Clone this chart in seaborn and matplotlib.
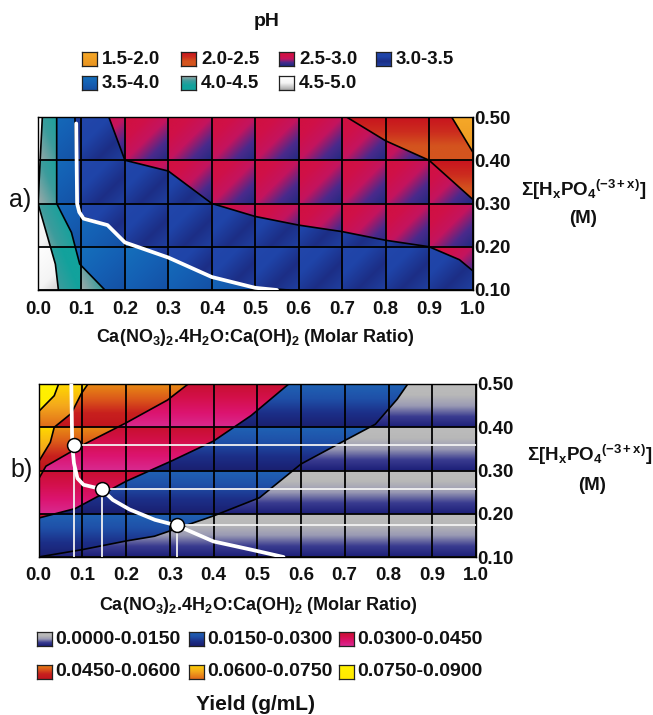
import numpy as np
import matplotlib
matplotlib.use("Agg")
import matplotlib.pyplot as plt
from matplotlib.colors import LinearSegmentedColormap as LSC
from matplotlib.patches import Polygon
import seaborn as sns

sns.set_theme(style="white")
plt.rcParams['font.family'] = ['Liberation Sans', 'DejaVu Sans']
plt.rcParams['mathtext.fontset'] = 'custom'
plt.rcParams['mathtext.rm'] = 'Liberation Sans:bold'
plt.rcParams['mathtext.bf'] = 'Liberation Sans:bold'
plt.rcParams['mathtext.it'] = 'Liberation Sans:bold'

W, H = 653, 715

x_ticks = [0.0, 0.1, 0.2, 0.3, 0.4, 0.5, 0.6, 0.7, 0.8, 0.9, 1.0]
y_ticks = [0.10, 0.20, 0.30, 0.40, 0.50]

ph_labels = ["4.5-5.0", "4.0-4.5", "3.5-4.0", "3.0-3.5", "2.5-3.0", "2.0-2.5", "1.5-2.0"]
ph_colors = [
    ['#ffffff', '#f4f4f4', '#a8a8a8'],
    ['#a0aaaa', '#3c9c9c', '#12a29c', '#12a29c'],
    ['#1470bc', '#1560b4', '#1450a4'],
    ['#2246aa', '#1f44a8', '#1c2e86', '#2040a0'],
    ['#d0103f', '#d01048', '#c4145e', '#4a2a8c', '#1f2a80'],
    ['#c8141e', '#cc2c1e', '#d4541e', '#d4541e'],
    ['#f6a828', '#e89420'],
]
ph_modes = ['d', 'a', 'd', 'd', 'd', 'v', 'v']
# contour lines of panel a, from left to right
a_x = [[0.01, 0.0, 0.04, 0.047],
       [0.043, 0.043, 0.077, 0.096, 0.154],
       [0.085, 0.09, 0.10, 0.16, 0.20, 0.30, 0.40, 0.50, 0.577],
       [0.163, 0.20, 0.30, 0.40, 0.50, 0.60, 0.70, 0.80, 0.90, 0.97, 1.0],
       [0.71, 0.80, 0.90, 1.0],
       [0.952, 1.0]]
a_y = [[0.50, 0.30, 0.16, 0.10],
       [0.50, 0.30, 0.233, 0.16, 0.10],
       [0.50, 0.30, 0.27, 0.25, 0.21, 0.175, 0.13, 0.105, 0.10],
       [0.50, 0.40, 0.375, 0.30, 0.27, 0.25, 0.235, 0.215, 0.20, 0.17, 0.145],
       [0.50, 0.445, 0.40, 0.31],
       [0.50, 0.42]]
path_a_x = [0.088, 0.09, 0.095, 0.105, 0.16, 0.175, 0.20, 0.30, 0.40, 0.50, 0.55]
path_a_y = [0.485, 0.30, 0.28, 0.265, 0.25, 0.235, 0.21, 0.175, 0.13, 0.105, 0.10]

yield_labels = ["0.0000-0.0150", "0.0150-0.0300", "0.0300-0.0450",
                "0.0450-0.0600", "0.0600-0.0750", "0.0750-0.0900"]
yield_colors = [
    ['#bcbcbc', '#b8b8b8', '#9a9ab4', '#3a3c90', '#1c1f78'],
    ['#1f62b4', '#1f50a8', '#1c2f88', '#1a1f70'],
    ['#c80f30', '#d4104c', '#dc1470', '#d82a90'],
    ['#e88a14', '#dc5a1a', '#c8201e', '#c0141e'],
    ['#ffd800', '#f4a81c', '#e06a1a'],
    ['#fff200', '#ffe800'],
]
# contour lines of panel b, from lower left to the top edge
b_x = [[0.0, 0.10, 0.20, 0.265, 0.40, 0.505, 0.60, 0.705, 0.77, 0.82, 0.844],
       [0.0, 0.084, 0.20, 0.304, 0.40, 0.486, 0.572],
       [0.0, 0.017, 0.103, 0.20, 0.295, 0.342],
       [0.0, 0.027, 0.036, 0.075, 0.098, 0.113],
       [0.0, 0.036, 0.046]]
b_y = [[0.10, 0.117, 0.137, 0.148, 0.195, 0.237, 0.315, 0.372, 0.407, 0.465, 0.50],
       [0.19, 0.212, 0.275, 0.322, 0.368, 0.427, 0.50],
       [0.28, 0.31, 0.36, 0.41, 0.463, 0.50],
       [0.32, 0.365, 0.40, 0.432, 0.478, 0.50],
       [0.436, 0.473, 0.50]]
path_b_x = [0.075, 0.077, 0.081, 0.089, 0.103, 0.144, 0.17, 0.208, 0.266, 0.316, 0.40, 0.486, 0.56]
path_b_y = [0.50, 0.36, 0.317, 0.282, 0.267, 0.257, 0.232, 0.21, 0.186, 0.173, 0.136, 0.117, 0.10]
point_x = [0.081, 0.144, 0.316]
point_y = [0.359, 0.257, 0.173]

fig = plt.figure(figsize=(W / 100, H / 100), dpi=100)
fig.patch.set_facecolor('white')


def px_axes(l, t, r, b):
    return fig.add_axes([l / W, 1 - b / H, (r - l) / W, (b - t) / H])


def label(x, y, s, size=13.5, weight='bold', ha='center'):
    fig.text(x / W, 1 - y / H, s, fontsize=size, fontweight=weight,
             ha=ha, va='center', color='#111111')


def cell_field(mode):
    X, Y = np.meshgrid(np.linspace(0, 1, 900), np.linspace(0.5, 0.1, 360))
    u = (X / 0.1) % 1
    v = ((0.5 - Y) / 0.1) % 1
    if mode == 'v':
        return v
    if mode == 'a':
        return 0.7 * u + 0.3 * (1 - v)
    return (u + v) / 2


def fill(ax, stops, clip, mode):
    cmap = LSC.from_list('c', stops)
    im = ax.imshow(cell_field(mode), cmap=cmap, vmin=0, vmax=1, aspect='auto',
                   extent=(0, 1, 0.1, 0.5), origin='upper', zorder=1,
                   interpolation='bilinear')
    if clip is not None:
        patch = Polygon(clip, closed=True, transform=ax.transData,
                        fc='none', ec='none')
        ax.add_patch(patch)
        im.set_clip_path(patch)


def dress(ax, xpad, ypad):
    ax.set_xlim(0, 1)
    ax.set_ylim(0.1, 0.5)
    for v in x_ticks:
        ax.axvline(v, color='black', lw=1.3, zorder=3)
    for v in y_ticks:
        ax.axhline(v, color='black', lw=1.3, zorder=3)
    ax.yaxis.tick_right()
    ax.set_xticks(x_ticks, [f"{v:.1f}" for v in x_ticks],
                  fontsize=13.5, fontweight='bold', color='#111111')
    ax.set_yticks(y_ticks, [f"{v:.2f}" for v in y_ticks],
                  fontsize=13.5, fontweight='bold', color='#111111')
    ax.tick_params(axis='x', length=0, pad=xpad)
    ax.tick_params(axis='y', length=0, pad=ypad)
    ax.set_xlabel('')
    ax.set_ylabel('')
    for s in ax.spines.values():
        s.set_visible(True)
        s.set_color('black')
        s.set_linewidth(1.0)


def swatch(l, t, stops):
    a = px_axes(l, t, l + 15, t + 14)
    a.imshow(np.linspace(0, 1, 30)[:, None], cmap=LSC.from_list('s', stops),
             aspect='auto', vmin=0, vmax=1)
    a.set_xticks([])
    a.set_yticks([])
    for s in a.spines.values():
        s.set_visible(True)
        s.set_color('#222222')
        s.set_linewidth(0.9)


# ---------- panel a ----------
ax = px_axes(38, 117, 472.5, 290)
fill(ax, ph_colors[0], None, ph_modes[0])
for i, (lx, ly) in enumerate(zip(a_x, a_y)):
    pts = list(zip(lx, ly))
    if lx[-1] < 1:
        pts.append((1.0, 0.1))
    pts.append((1.0, 0.5))
    fill(ax, ph_colors[i + 1], pts, ph_modes[i + 1])
    sns.lineplot(x=lx, y=ly, sort=False, estimator=None, color='black', lw=1.2,
                 ax=ax, zorder=4)
sns.lineplot(x=path_a_x, y=path_a_y, sort=False, estimator=None, color='white',
             lw=2.7, ax=ax, zorder=5)
dress(ax, 8, 1)

# ---------- panel b ----------
bx = px_axes(38.5, 384, 476, 557)
fill(bx, yield_colors[0], None, 'v')
for i, (lx, ly) in enumerate(zip(b_x, b_y)):
    pts = list(zip(lx, ly)) + [(0.0, 0.5)]
    fill(bx, yield_colors[i + 1], pts, 'v')
    sns.lineplot(x=lx, y=ly, sort=False, estimator=None, color='black', lw=1.2,
                 ax=bx, zorder=4)
for px, py in zip(point_x, point_y):
    bx.plot([px, px], [0.1, py], color='#f2f2f2', lw=1.3, zorder=5)
    bx.plot([px, 1.0], [py, py], color='#f2f2f2', lw=1.3, zorder=5)
sns.lineplot(x=path_b_x, y=path_b_y, sort=False, estimator=None, color='white',
             lw=2.7, ax=bx, zorder=6)
sns.scatterplot(x=point_x, y=point_y, s=100, color='white', edgecolor='black',
                linewidth=1.1, ax=bx, zorder=7)
dress(bx, 7, 1)

# ---------- text ----------
xl = r"Ca(NO$_3$)$_2$.4H$_2$O:Ca(OH)$_2$ (Molar Ratio)"
sl = r"$\Sigma$[H$_x$PO$_4$$^{(-3+x)}$]"
label(267, 22, "pH", 14)
label(255, 337, xl, 13)
label(258, 605, xl, 13)
label(584, 190, sl, 13.5)
label(583, 218, "(M)", 13.5)
label(590, 455, sl, 13.5)
label(592, 485, "(M)", 13.5)
label(20, 200, "a)", 18, 'normal')
label(22, 470, "b)", 18, 'normal')
label(256, 704, "Yield (g/mL)", 15)

# pH legend: lowest pH first, four per row
ph_order = ph_labels[::-1]
ph_cols = [82, 181, 279, 376]
for i, (name, stops) in enumerate(zip(ph_order, ph_colors[::-1])):
    col = ph_cols[i % 4]
    row = 59 if i < 4 else 83
    swatch(col, row - 7, stops)
    label(col + 20, row, name, 13.5, ha='left')

# yield legend
y_cols = [37, 189, 339]
for i, (name, stops) in enumerate(zip(yield_labels, yield_colors)):
    col = y_cols[i % 3]
    row = 639 if i < 3 else 672
    swatch(col, row - 7, stops)
    label(col + 18, row, name, 14, ha='left')

fig.savefig("out.png", dpi=100, facecolor='white')
